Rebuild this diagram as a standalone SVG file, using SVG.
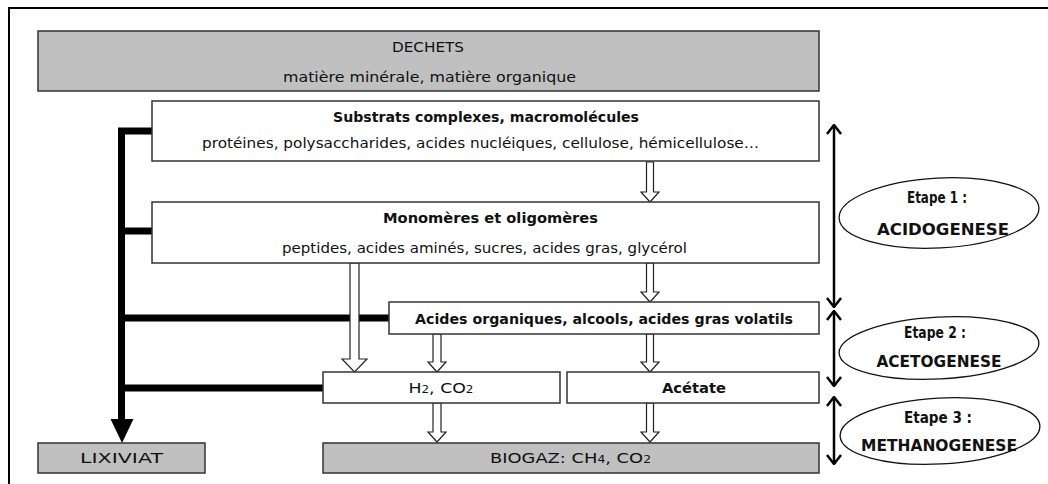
<svg xmlns="http://www.w3.org/2000/svg" width="1048" height="484" viewBox="0 0 1048 484">
<defs>
<style>
.box{fill:#fff;stroke:#333;stroke-width:1.5}
.gray{fill:#c0c0c0;stroke:#333;stroke-width:1.5}
text{font-family:"DejaVu Sans","Liberation Sans",sans-serif;font-size:14.5px;fill:#111;text-anchor:middle}
.b{font-weight:bold}
.e{font-weight:bold;font-size:15.5px}
.sub{font-size:10px}
.wa{fill:#fff;stroke:#222;stroke-width:1.2}
.blk{stroke:#000;stroke-width:7;fill:none}
.dbl{stroke:#000;stroke-width:2.5;fill:none;marker-start:url(#chev);marker-end:url(#chev)}
.ell{fill:#fff;stroke:#111;stroke-width:1.3}
</style>
<marker id="chev" viewBox="0 0 11 16" refX="10" refY="8" markerWidth="11" markerHeight="16" markerUnits="userSpaceOnUse" orient="auto-start-reverse">
<path d="M1,1 L10,8 L1,15" fill="none" stroke="#000" stroke-width="2.5"/>
</marker>
</defs>
<rect x="0" y="0" width="1048" height="484" fill="#fff"/>
<path d="M9,484 L9,8 L1048,8" fill="none" stroke="#000" stroke-width="2"/>

<g id="connectors">
<path class="blk" d="M121.5,128 L121.5,421"/>
<path class="blk" d="M118,131 L152,131"/>
<path class="blk" d="M121.5,231 L152,231"/>
<path class="blk" d="M121.5,318 L389,318"/>
<path class="blk" d="M121.5,388 L323,388"/>
<polygon points="110.5,419 133.5,419 122,443" fill="#000"/>
<path class="wa" d="M646.5,162 L653.5,162 L653.5,192 L659,192 L650,202 L641,192 L646.5,192 Z"/>
<path class="wa" d="M646.5,263 L653.5,263 L653.5,292 L659,292 L650,302 L641,292 L646.5,292 Z"/>
<path class="wa" d="M646.5,334 L653.5,334 L653.5,362 L659,362 L650,372 L641,362 L646.5,362 Z"/>
<path class="wa" d="M646.5,403 L653.5,403 L653.5,432 L659,432 L650,442 L641,432 L646.5,432 Z"/>
<path class="wa" d="M350,263 L359,263 L359,359 L367,359 L354.5,372 L342,359 L350,359 Z"/>
<path class="wa" d="M433,334 L441,334 L441,362 L446,362 L437,372 L428,362 L433,362 Z"/>
<path class="wa" d="M433,403 L441,403 L441,432 L446,432 L437,442 L428,432 L433,432 Z"/>
<path class="dbl" d="M834,125 L834,307"/>
<path class="dbl" d="M834,311 L834,386"/>
<path class="dbl" d="M834,397 L834,464"/>
</g>

<g id="dechets">
<rect class="gray" x="38" y="31" width="781" height="60"/>
<text x="428" y="52" textLength="72" lengthAdjust="spacingAndGlyphs">DECHETS</text>
<text x="429.5" y="82" textLength="293" lengthAdjust="spacingAndGlyphs">matière minérale, matière organique</text>
</g>
<g id="substrats">
<rect class="box" x="152" y="101" width="667" height="60"/>
<text class="b" x="486" y="122" textLength="306" lengthAdjust="spacingAndGlyphs">Substrats complexes, macromolécules</text>
<text x="480.5" y="148" textLength="557" lengthAdjust="spacingAndGlyphs">protéines, polysaccharides, acides nucléiques, cellulose, hémicellulose…</text>
</g>
<g id="monomeres">
<rect class="box" x="152" y="202" width="667" height="61"/>
<text class="b" x="490.5" y="223" textLength="215" lengthAdjust="spacingAndGlyphs">Monomères et oligomères</text>
<text x="484.5" y="253" textLength="405" lengthAdjust="spacingAndGlyphs">peptides, acides aminés, sucres, acides gras, glycérol</text>
</g>
<g id="acides">
<rect class="box" x="389" y="302" width="430" height="32"/>
<text class="b" x="604" y="324" textLength="378" lengthAdjust="spacingAndGlyphs">Acides organiques, alcools, acides gras volatils</text>
</g>
<g id="h2co2">
<rect class="box" x="323" y="372" width="237" height="31"/>
<text x="441" y="393" textLength="65" lengthAdjust="spacingAndGlyphs">H<tspan class="sub">2</tspan>, CO<tspan class="sub">2</tspan></text>
</g>
<g id="acetate">
<rect class="box" x="567" y="372" width="252" height="31"/>
<text class="b" x="694" y="393" textLength="64" lengthAdjust="spacingAndGlyphs">Acétate</text>
</g>
<g id="lixiviat">
<rect class="gray" x="38" y="443" width="167" height="30"/>
<text x="121.5" y="463" textLength="83" lengthAdjust="spacingAndGlyphs">LIXIVIAT</text>
</g>
<g id="biogaz">
<rect class="gray" x="323" y="443" width="496" height="30"/>
<text x="570.5" y="463" textLength="161" lengthAdjust="spacingAndGlyphs">BIOGAZ: CH<tspan class="sub">4</tspan>, CO<tspan class="sub">2</tspan></text>
</g>
<g id="etape1">
<ellipse class="ell" cx="939" cy="213" rx="100" ry="35" transform="rotate(-3 939 213)"/>
<text class="e" x="937" y="203" textLength="60" lengthAdjust="spacingAndGlyphs">Etape 1 :</text>
<text class="e" x="943" y="235" textLength="132" lengthAdjust="spacingAndGlyphs">ACIDOGENESE</text>
</g>
<g id="etape2">
<ellipse class="ell" cx="939" cy="348" rx="100" ry="31" transform="rotate(-3 939 348)"/>
<text class="e" x="935" y="338" textLength="62" lengthAdjust="spacingAndGlyphs">Etape 2 :</text>
<text class="e" x="939" y="367" textLength="125" lengthAdjust="spacingAndGlyphs">ACETOGENESE</text>
</g>
<g id="etape3">
<ellipse class="ell" cx="940" cy="431" rx="100" ry="33" transform="rotate(-3 940 431)"/>
<text class="e" x="938" y="423" textLength="68" lengthAdjust="spacingAndGlyphs">Etape 3 :</text>
<text class="e" x="939" y="451" textLength="156" lengthAdjust="spacingAndGlyphs">METHANOGENESE</text>
</g>
</svg>
